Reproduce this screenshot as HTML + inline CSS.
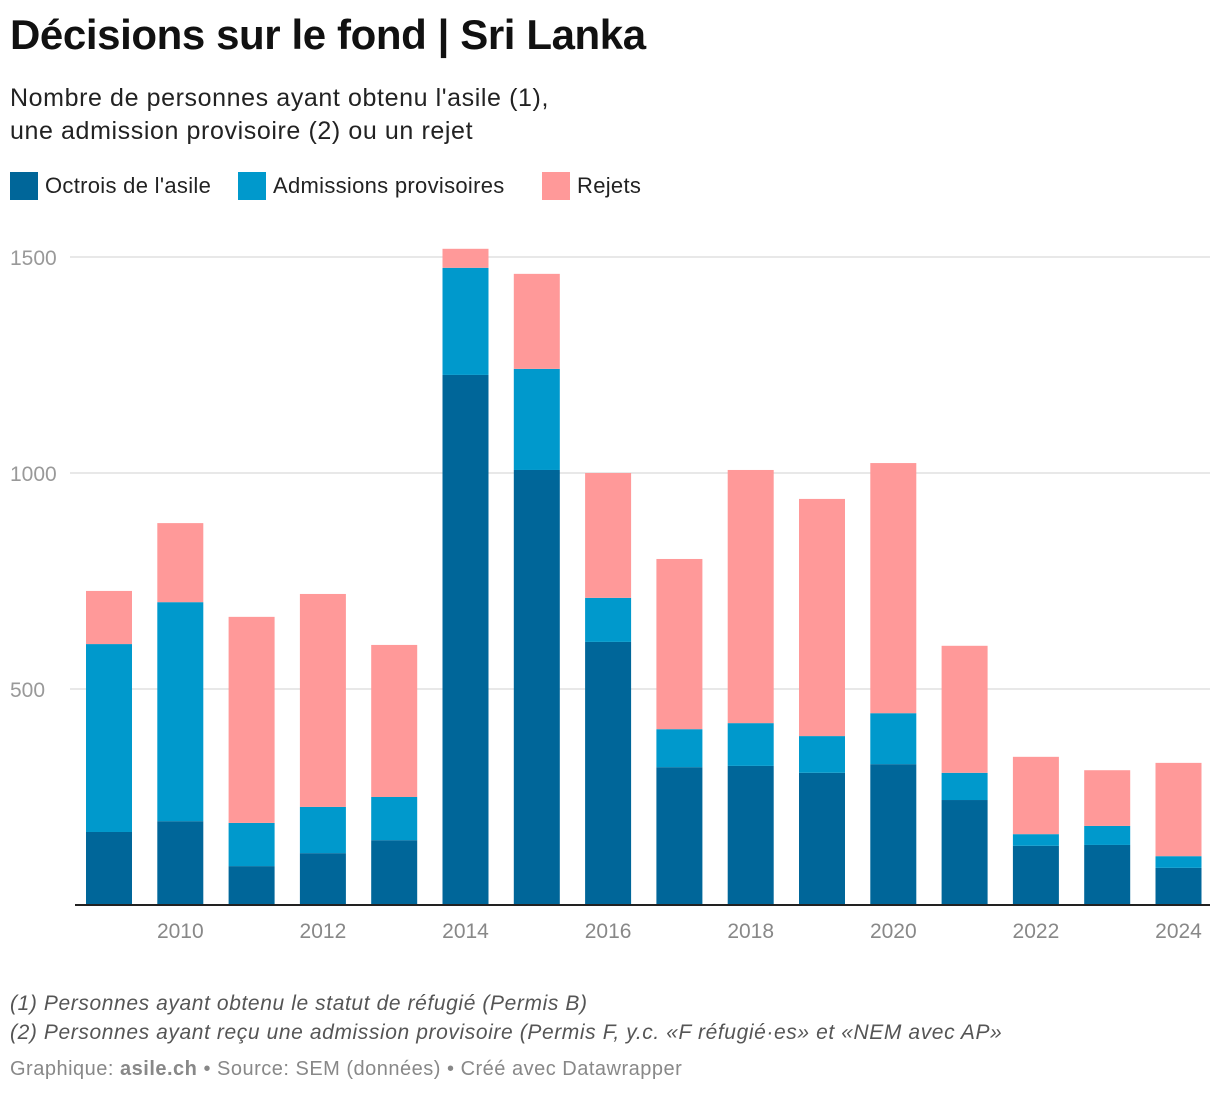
<!DOCTYPE html>
<html><head><meta charset="utf-8"><style>
body{margin:0;background:#fff;font-family:"Liberation Sans",sans-serif;}
#wrap{position:relative;width:1220px;height:1094px;overflow:hidden}
h1{position:absolute;left:10px;top:11px;margin:0;font-size:42px;font-weight:bold;color:#111;letter-spacing:-0.4px}
.sub{position:absolute;left:10px;top:82px;font-size:25px;color:#222;line-height:33px;letter-spacing:0.6px}
.leg{position:absolute;top:172px;font-size:22px;color:#222;display:flex;align-items:center;letter-spacing:0.3px}
.sw{width:28px;height:28px;margin-right:7px;display:inline-block}
.note{position:absolute;left:10px;font-size:21px;color:#555;font-style:italic;letter-spacing:0.6px}
.foot{position:absolute;left:10px;top:1058px;font-size:20px;color:#888;letter-spacing:0.5px}
</style></head><body><div id="wrap">
<h1>Décisions sur le fond | Sri Lanka</h1>
<div class="sub">Nombre de personnes ayant obtenu l'asile (1),<br>une admission provisoire (2) ou un rejet</div>
<div class="leg" style="left:10px"><span class="sw" style="background:#006699"></span>Octrois de l'asile</div>
<div class="leg" style="left:238px"><span class="sw" style="background:#0099cc"></span>Admissions provisoires</div>
<div class="leg" style="left:542px"><span class="sw" style="background:#ff9999"></span>Rejets</div>
<svg id="plot" width="1220" height="1094" style="position:absolute;left:0;top:0"></svg>
<div class="note" style="top:992px">(1) Personnes ayant obtenu le statut de réfugié (Permis B)</div>
<div class="note" style="top:1021px">(2) Personnes ayant reçu une admission provisoire (Permis F, y.c. «F réfugié·es» et «NEM avec AP»</div>
<div class="foot">Graphique: <b>asile.ch</b> • Source: SEM (données) • Créé avec Datawrapper</div>
</div>
<script>
const years=[2009,2010,2011,2012,2013,2014,2015,2016,2017,2018,2019,2020,2021,2022,2023,2024];
const octrois=[169,194,90,120,150,1227,1007,609,319,322,306,326,243,137,139,86];
const admissions=[435,507,100,107,100,248,234,102,88,99,85,118,63,27,44,27];
const rejets=[123,183,477,493,352,44,220,289,394,586,549,579,294,179,129,216];
const yTicks=[500,1000,1500];
const xTicks=[2010,2012,2014,2016,2018,2020,2022,2024];
const NS="http://www.w3.org/2000/svg";
const svg=document.getElementById('plot');
const y=v=>905-v*0.432;
const x=yr=>109+(yr-2009)*71.3;
function mk(t,a){const e=document.createElementNS(NS,t);for(const k in a)e.setAttribute(k,a[k]);svg.appendChild(e);return e;}
yTicks.forEach(v=>{
 const l=mk('line',{x1:70,x2:1210,y1:y(v),y2:y(v),stroke:'#e0e0e0','stroke-width':1.5});
 
 
 const t=mk('text',{x:10,y:y(v)+8,'font-size':21,fill:'#999','font-family':'Liberation Sans'});
 t.textContent=v;
 
 
});
const bw=46;
years.forEach((yr,i)=>{
 let base=0;
 [[octrois,'#006699','octrois'],[admissions,'#0099cc','admissions'],[rejets,'#ff9999','rejets']].forEach(([arr,c,n])=>{
  const v=arr[i];
  const r=mk('rect',{x:x(yr)-bw/2,y:y(base+v),width:bw,height:v*0.432,fill:c});
  
  
  base+=v;
 });
});
const ax=mk('line',{x1:75,x2:1210,y1:905,y2:905,stroke:'#222','stroke-width':2});


xTicks.forEach(yr=>{
 const t=mk('text',{x:x(yr),y:938,'font-size':21,fill:'#888','text-anchor':'middle','font-family':'Liberation Sans'});
 t.textContent=yr;
 
 
});
</script></body></html>
